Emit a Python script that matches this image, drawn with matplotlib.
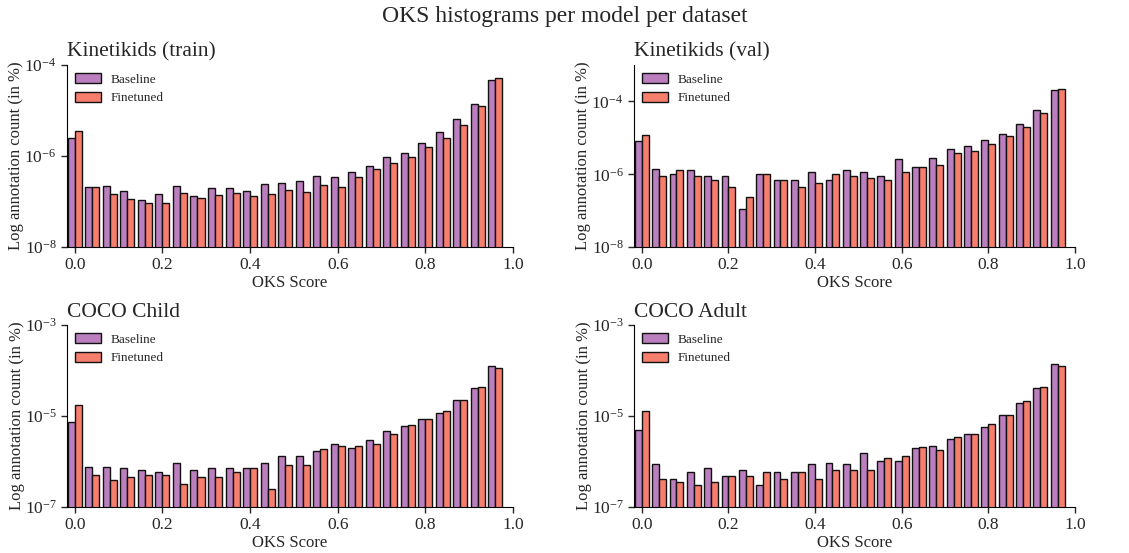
import numpy as np
import matplotlib
matplotlib.use("Agg")
import matplotlib.pyplot as plt
from matplotlib.ticker import NullLocator

plt.rcParams['font.family'] = ['Liberation Serif', 'DejaVu Serif']
plt.rcParams['mathtext.fontset'] = 'stix'
plt.rcParams['text.color'] = '#262626'
plt.rcParams['axes.labelcolor'] = '#262626'
plt.rcParams['xtick.color'] = '#262626'
plt.rcParams['ytick.color'] = '#262626'

# bin centres of the OKS histograms (25 bins)
oks_bins = np.arange(25) * 0.04

titles = ['Kinetikids (train)', 'Kinetikids (val)', 'COCO Child', 'COCO Adult']

train_baseline = [2.45e-6, 2.1e-7, 2.2e-7, 1.7e-7, 1.1e-7, 1.5e-7, 2.2e-7, 1.35e-7, 2.0e-7, 2.0e-7,
                  1.7e-7, 2.4e-7, 2.5e-7, 2.8e-7, 3.7e-7, 3.4e-7, 4.5e-7, 6.1e-7, 9.4e-7, 1.18e-6,
                  1.9e-6, 3.3e-6, 6.6e-6, 1.36e-5, 4.7e-5]
train_finetuned = [3.55e-6, 2.1e-7, 1.43e-7, 1.13e-7, 9.3e-8, 9.3e-8, 1.55e-7, 1.18e-7, 1.38e-7, 1.55e-7,
                   1.3e-7, 1.5e-7, 1.78e-7, 1.6e-7, 2.33e-7, 2.05e-7, 3.5e-7, 5.3e-7, 7.0e-7, 9.7e-7,
                   1.6e-6, 2.5e-6, 4.9e-6, 1.23e-5, 5.1e-5]

val_baseline = [8.1e-6, 1.38e-6, 1.03e-6, 1.27e-6, 9.1e-7, 9.1e-7, 1.13e-7, 1.03e-6, 6.9e-7, 6.9e-7,
                1.12e-6, 6.9e-7, 1.27e-6, 1.12e-6, 9.1e-7, 2.7e-6, 1.6e-6, 2.77e-6, 4.8e-6, 5.9e-6,
                8.7e-6, 1.3e-5, 2.4e-5, 5.8e-5, 2.04e-4]
val_finetuned = [1.22e-5, 9.1e-7, 1.27e-6, 9.1e-7, 6.9e-7, 4.6e-7, 2.3e-7, 1.03e-6, 6.9e-7, 4.6e-7,
                 5.7e-7, 1.03e-6, 9.1e-7, 8.0e-7, 6.9e-7, 1.14e-6, 1.6e-6, 1.82e-6, 3.8e-6, 4.3e-6,
                 6.7e-6, 1.14e-5, 2.05e-5, 4.8e-5, 2.2e-4]

child_baseline = [7.4e-6, 7.7e-7, 7.7e-7, 7.1e-7, 6.4e-7, 5.8e-7, 9.5e-7, 6.4e-7, 7.1e-7, 7.1e-7,
                  7.1e-7, 9.5e-7, 1.29e-6, 1.29e-6, 1.72e-6, 2.4e-6, 1.94e-6, 2.95e-6, 4.8e-6, 6.0e-6,
                  8.5e-6, 1.16e-5, 2.3e-5, 4.2e-5, 1.26e-4]
child_finetuned = [1.76e-5, 5.1e-7, 3.85e-7, 4.47e-7, 5.1e-7, 5.1e-7, 3.2e-7, 4.47e-7, 4.47e-7, 5.8e-7,
                   7.1e-7, 2.53e-7, 8.3e-7, 8.3e-7, 1.87e-6, 2.24e-6, 2.24e-6, 2.4e-6, 4.0e-6, 6.4e-6,
                   8.8e-6, 1.3e-5, 2.3e-5, 4.3e-5, 1.12e-4]

adult_baseline = [5.0e-6, 8.9e-7, 4.2e-7, 6.0e-7, 7.2e-7, 4.8e-7, 6.6e-7, 3.0e-7, 6.0e-7, 6.0e-7,
                  8.9e-7, 9.5e-7, 8.9e-7, 1.5e-6, 1.02e-6, 1.02e-6, 1.94e-6, 2.18e-6, 3.1e-6, 4.0e-6,
                  5.8e-6, 1.05e-5, 1.9e-5, 4.2e-5, 1.37e-4]
adult_finetuned = [1.27e-5, 4.2e-7, 3.5e-7, 3.0e-7, 3.5e-7, 4.8e-7, 4.8e-7, 6.0e-7, 4.2e-7, 6.0e-7,
                   4.2e-7, 6.6e-7, 6.6e-7, 6.6e-7, 1.19e-6, 1.35e-6, 2.1e-6, 1.8e-6, 3.4e-6, 4.1e-6,
                   6.8e-6, 1.08e-5, 2.1e-5, 4.4e-5, 1.23e-4]

baselines = [train_baseline, val_baseline, child_baseline, adult_baseline]
finetuned = [train_finetuned, val_finetuned, child_finetuned, adult_finetuned]
y_limits = [(1e-8, 1e-4), (1e-8, 1e-3), (1e-7, 1e-3), (1e-7, 1e-3)]
y_ticks = [[1e-8, 1e-6, 1e-4], [1e-8, 1e-6, 1e-4], [1e-7, 1e-5, 1e-3], [1e-7, 1e-5, 1e-3]]

# axes rectangles in figure fractions
positions = [[0.0593, 0.5533, 0.395, 0.329],
             [0.5616, 0.5533, 0.3906, 0.329],
             [0.0593, 0.0832, 0.395, 0.329],
             [0.5616, 0.0832, 0.3906, 0.329]]

fig = plt.figure(figsize=(11.29, 5.53), dpi=100)
fig.suptitle('OKS histograms per model per dataset', fontsize=17, y=0.99)

bar_w = 0.016
for i in range(4):
    ax = fig.add_axes(positions[i])
    ax.bar(oks_bins - bar_w / 2, baselines[i], width=bar_w, color='#bb7fbf',
           edgecolor='#111111', linewidth=1.0, label='Baseline')
    ax.bar(oks_bins + bar_w / 2, finetuned[i], width=bar_w, color='#f67e6d',
           edgecolor='#111111', linewidth=1.0, label='Finetuned')
    ax.set_yscale('log')
    ax.set_ylim(*y_limits[i])
    ax.set_yticks(y_ticks[i])
    ax.yaxis.set_minor_locator(NullLocator())
    ax.set_xlim(-0.018, 1.0)
    ax.set_xticks([0.0, 0.2, 0.4, 0.6, 0.8, 1.0])
    ax.tick_params(axis='both', labelsize=12.5, direction='out', length=4, width=1)
    ax.spines['top'].set_visible(False)
    ax.spines['right'].set_visible(False)
    ax.set_xlabel('OKS Score', fontsize=12, labelpad=1)
    ax.set_ylabel('Log annotation count (in %)', fontsize=12, labelpad=0)
    ax.set_title(titles[i], loc='left', fontsize=15.5, pad=6)
    ax.legend(loc='upper left', frameon=False, fontsize=9.5, handlelength=2.0,
              handleheight=0.8, borderaxespad=0.2, handletextpad=0.7, labelspacing=0.45)

fig.savefig('out.png', dpi=100)
